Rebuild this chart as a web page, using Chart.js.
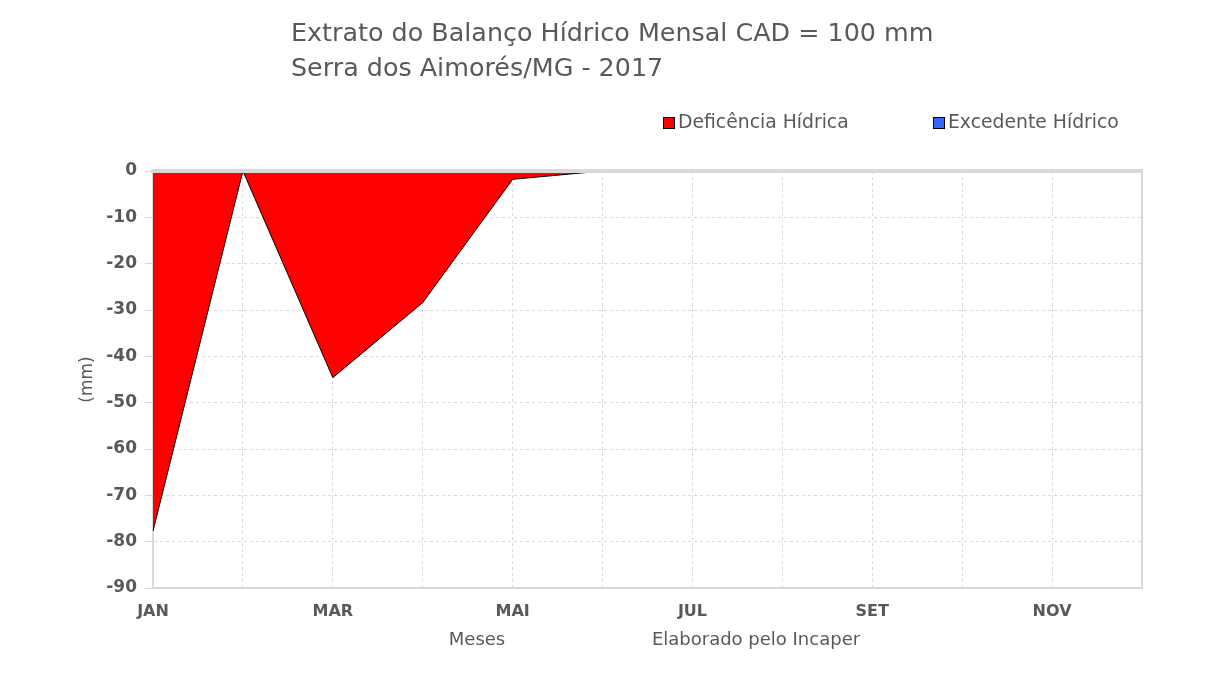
<!DOCTYPE html>
<html>
<head>
<meta charset="utf-8">
<script src="https://cdn.jsdelivr.net/npm/chart.js@4"></script>
<style>
  html, body { margin: 0; padding: 0; background: #fff; }
  #wrap { width: 1226px; height: 684px; position: relative; }
</style>
</head>
<body>
<div id="wrap"><canvas id="chart"></canvas></div>
<script>
// Balanço hídrico mensal - Serra dos Aimorés/MG 2017
const months = ['JAN', 'FEV', 'MAR', 'ABR', 'MAI', 'JUN', 'JUL', 'AGO', 'SET', 'OUT', 'NOV', 'DEZ'];
const deficiencia = [-77.7, 0, -44.6, -28.4, -1.8, 0, 0, 0, 0, 0, 0, 0];
const excedente = [0, 0, 0, 0, 0, 0, 0, 0, 0, 0, 0, 0];
const yTicks = [0, -10, -20, -30, -40, -50, -60, -70, -80, -90];
const titleLines = ['Extrato do Balanço Hídrico Mensal CAD = 100 mm', 'Serra dos Aimorés/MG - 2017'];

const TXT = '#595959';
const GRID = '#d9d9d9';
const FONT = '"DejaVu Sans", sans-serif';

// title, legend and footer texts
const decor = {
  id: 'decor',
  afterDraw(chart) {
    const ctx = chart.ctx;
    ctx.save();
    ctx.fillStyle = TXT;
    ctx.textBaseline = 'middle';
    ctx.textAlign = 'left';
    ctx.font = '25.4px ' + FONT;
    titleLines.forEach((t, i) => ctx.fillText(t, 291, 34 + i * 35));

    // legend
    ctx.font = '18.8px ' + FONT;
    const legendX = [663, 933];
    chart.data.datasets.forEach((ds, i) => {
      const x = legendX[i];
      ctx.fillStyle = ds.backgroundColor;
      ctx.fillRect(x, 117, 12, 12);
      ctx.strokeStyle = '#000';
      ctx.lineWidth = 1;
      ctx.strokeRect(x + 0.5, 117.5, 11, 11);
      ctx.fillStyle = TXT;
      ctx.fillText(ds.label, x + 15, 123);
    });

    ctx.textAlign = 'center';
    ctx.font = '18px ' + FONT;
    ctx.fillText('Meses', 477, 640);
    ctx.fillText('Elaborado pelo Incaper', 756, 640);
    ctx.restore();
  }
};

new Chart(document.getElementById('chart'), {
  type: 'line',
  data: {
    labels: months,
    datasets: [
      {
        label: 'Deficência Hídrica',
        data: deficiencia,
        backgroundColor: '#ff0000',
        borderColor: '#000000',
        borderWidth: 1,
        fill: 'origin',
        pointRadius: 0,
        tension: 0
      },
      {
        label: 'Excedente Hídrico',
        data: excedente,
        backgroundColor: '#3366ff',
        borderColor: '#3366ff',
        borderWidth: 0,
        fill: 'origin',
        pointRadius: 0,
        tension: 0
      }
    ]
  },
  options: {
    responsive: true,
    maintainAspectRatio: false,
    animation: false,
    layout: { padding: { left: 77, right: 84, top: 171, bottom: 0 } },
    plugins: {
      legend: { display: false },
      title: { display: false },
      tooltip: { enabled: false }
    },
    scales: {
      x: {
        type: 'category',
        position: 'bottom',
        offset: false,
        afterFit(s) { s.height = 96; },
        grid: { color: GRID, lineWidth: 1, drawTicks: false },
        border: { color: GRID, width: 2, dash: [3, 3] },
        ticks: {
          autoSkip: false,
          maxRotation: 0,
          padding: 14,
          color: TXT,
          font: { family: FONT, size: 16, weight: 'bold' },
          callback(v, i) { return i % 2 === 0 ? months[i] : ''; }
        }
      },
      xTop: {
        type: 'category',
        position: 'top',
        offset: false,
        afterFit(s) { s.height = 0; },
        grid: { display: false },
        border: { color: GRID, width: 4, z: 1 },
        ticks: { display: false }
      },
      y: {
        min: -90,
        max: 0,
        afterFit(s) { s.width = 76; },
        afterBuildTicks(s) { s.ticks = yTicks.map(v => ({ value: v })); },
        grid: { color: GRID, lineWidth: 1, tickLength: 8, tickColor: GRID },
        border: { color: GRID, width: 2, dash: [3, 3] },
        title: {
          display: true,
          text: '(mm)',
          color: TXT,
          font: { family: FONT, size: 17 },
          padding: { top: 0, bottom: 0 }
        },
        ticks: {
          padding: 8,
          color: TXT,
          font: { family: FONT, size: 17, weight: 'bold' }
        }
      },
      yRight: {
        position: 'right',
        min: -90,
        max: 0,
        afterFit(s) { s.width = 0; },
        grid: { display: false },
        border: { color: GRID, width: 2 },
        ticks: { display: false }
      }
    }
  },
  plugins: [decor]
});
</script>
</body>
</html>
